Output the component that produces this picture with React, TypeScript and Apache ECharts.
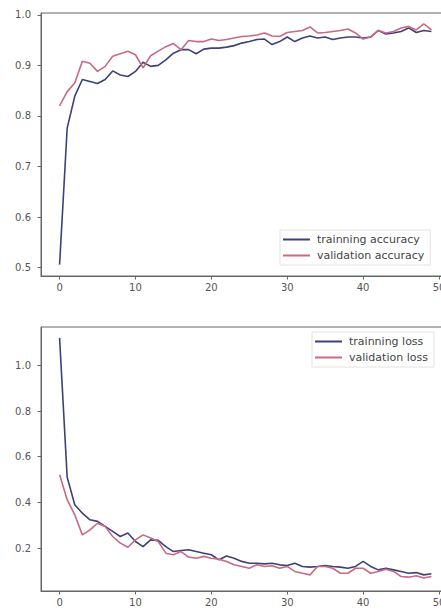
import React, { useEffect, useRef } from "react";
import * as echarts from "echarts";

const epochs = [0,1,2,3,4,5,6,7,8,9,10,11,12,13,14,15,16,17,18,19,20,21,22,23,24,25,26,27,28,29,30,31,32,33,34,35,36,37,38,39,40,41,42,43,44,45,46,47,48,49];

const trainAcc = [0.506,0.776,0.839,0.872,0.868,0.864,0.872,0.889,0.881,0.878,0.888,0.906,0.898,0.900,0.911,0.924,0.931,0.931,0.923,0.932,0.934,0.934,0.936,0.939,0.944,0.947,0.951,0.952,0.941,0.947,0.956,0.947,0.954,0.958,0.954,0.956,0.951,0.954,0.956,0.956,0.954,0.956,0.969,0.962,0.964,0.967,0.974,0.965,0.969,0.967];
const valAcc = [0.820,0.848,0.865,0.908,0.904,0.888,0.898,0.918,0.923,0.928,0.921,0.895,0.919,0.928,0.937,0.943,0.931,0.949,0.947,0.947,0.952,0.949,0.951,0.954,0.957,0.958,0.960,0.964,0.958,0.957,0.965,0.967,0.969,0.976,0.964,0.965,0.967,0.969,0.972,0.964,0.952,0.956,0.969,0.964,0.967,0.974,0.977,0.970,0.982,0.970];

const trainLoss = [1.12,0.51,0.39,0.353,0.324,0.317,0.295,0.273,0.251,0.266,0.229,0.207,0.236,0.234,0.207,0.185,0.19,0.193,0.185,0.178,0.171,0.149,0.166,0.156,0.142,0.134,0.134,0.131,0.134,0.127,0.124,0.134,0.12,0.117,0.12,0.124,0.12,0.117,0.112,0.12,0.142,0.12,0.105,0.112,0.105,0.098,0.09,0.093,0.083,0.088];
const valLoss = [0.521,0.412,0.346,0.258,0.28,0.309,0.295,0.251,0.222,0.204,0.236,0.258,0.244,0.229,0.178,0.171,0.185,0.161,0.156,0.164,0.156,0.152,0.142,0.127,0.12,0.112,0.127,0.12,0.123,0.112,0.12,0.098,0.09,0.083,0.12,0.12,0.112,0.09,0.09,0.112,0.112,0.09,0.098,0.108,0.098,0.076,0.073,0.079,0.069,0.076];

const xTicks = [0, 10, 20, 30, 40, 50];
const accTicks = [0.5, 0.6, 0.7, 0.8, 0.9, 1.0];
const lossTicks = [0.2, 0.4, 0.6, 0.8, 1.0];

const TRAIN_COLOR = "#3d4079";
const VAL_COLOR = "#c86a82";
const FONT = "DejaVu Sans";

function pairs(ys: number[]) {
  return epochs.map((e, i) => [e, ys[i]]);
}

export default function App() {
  const ref = useRef<HTMLDivElement>(null);
  useEffect(() => {
    if (!ref.current) return;
    const chart = echarts.init(ref.current, null, { renderer: "svg" });
    const axisLine = { show: true, onZero: false, lineStyle: { color: "#666", width: 1 } };
    const tick = { show: true, length: 3.5, lineStyle: { color: "#666" } };
    const xAxis = (gi: number) => ({
      type: "value",
      gridIndex: gi,
      min: -2.45,
      max: 51.45,
      axisLine,
      splitLine: { show: false },
      axisTick: { ...tick, customValues: xTicks },
      axisLabel: {
        customValues: xTicks,
        color: "#555",
        fontSize: 10,
        fontFamily: FONT,
        margin: 6,
        hideOverlap: false,
        formatter: (v: number) => String(v),
      },
    });
    const yAxis = (gi: number, min: number, max: number, ticks: number[]) => ({
      type: "value",
      gridIndex: gi,
      min,
      max,
      axisLine,
      splitLine: { show: false },
      axisTick: { ...tick, customValues: ticks },
      axisLabel: {
        customValues: ticks,
        color: "#555",
        fontSize: 10,
        fontFamily: FONT,
        margin: 10,
        formatter: (v: number) => v.toFixed(1),
      },
    });
    const legend = (names: string[], left: number, top: number) => ({
      data: names,
      orient: "vertical",
      left,
      top,
      icon: "rect",
      itemWidth: 27,
      itemHeight: 2,
      itemGap: 5,
      padding: [4, 6, 4, 3],
      backgroundColor: "#fff",
      borderColor: "#e2e2e2",
      borderWidth: 1,
      textStyle: { color: "#444", fontSize: 11, fontFamily: FONT, padding: [0, 0, 0, 2] },
    });
    const line = (name: string, ys: number[], color: string, idx: number) => ({
      name,
      type: "line",
      xAxisIndex: idx,
      yAxisIndex: idx,
      data: pairs(ys),
      showSymbol: false,
      symbol: "none",
      lineStyle: { color, width: 1.6 },
      itemStyle: { color },
    });
    chart.setOption({
      animation: false,
      backgroundColor: "#fff",
      grid: [
        { left: 41, top: 13, width: 409, height: 263, outerBoundsMode: "none", containLabel: false, show: true, borderColor: "#666", borderWidth: 1, backgroundColor: "transparent" },
        { left: 41, top: 327, width: 409, height: 264, outerBoundsMode: "none", containLabel: false, show: true, borderColor: "#666", borderWidth: 1, backgroundColor: "transparent" },
      ],
      xAxis: [xAxis(0), xAxis(1)],
      yAxis: [yAxis(0, 0.4835, 1.0035, accTicks), yAxis(1, 0.0125, 1.1675, lossTicks)],
      legend: [
        legend(["trainning accuracy", "validation accuracy"], 280, 230),
        legend(["trainning loss", "validation loss"], 312, 332),
      ],
      series: [
        line("trainning accuracy", trainAcc, TRAIN_COLOR, 0),
        line("validation accuracy", valAcc, VAL_COLOR, 0),
        line("trainning loss", trainLoss, TRAIN_COLOR, 1),
        line("validation loss", valLoss, VAL_COLOR, 1),
      ],
    });
    return () => chart.dispose();
  }, []);
  return (
    <div
      ref={ref}
      style={{ position: "fixed", left: 0, top: 0, width: 441, height: 611, background: "#fff" }}
    />
  );
}
